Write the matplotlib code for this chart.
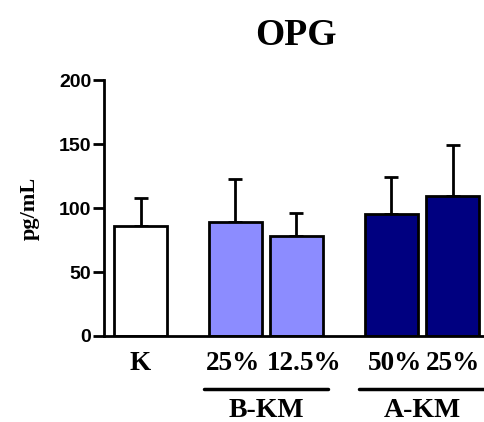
import numpy as np
import matplotlib
matplotlib.use("Agg")
import matplotlib.pyplot as plt
from matplotlib.font_manager import FontProperties

# OPG levels per group (mean and upper SD)
groups = ["K", "25%", "12.5%", "50%", "25%"]
means = [86, 89, 78, 95, 109]
sds = [22, 34, 18, 29, 40]
colors = ["white", "#8c8cff", "#8c8cff", "#000080", "#000080"]
positions = [0.69, 2.48, 3.63, 5.42, 6.58]
bracket_names = ["B-KM", "A-KM"]
bracket_members = [(1, 2), (3, 4)]

serif = "Liberation Serif"
sans = "Liberation Sans"

fig = plt.figure(figsize=(4.85, 4.22), dpi=100)
ax = fig.add_axes([0.2144, 0.2038, 0.7856, 0.6066])

ax.bar(positions, means, width=1.0, color=colors, edgecolor="black",
       linewidth=2, zorder=2)
ax.errorbar(positions, means, yerr=[np.zeros(len(sds)), sds], fmt="none",
            ecolor="black", elinewidth=2, capsize=4.7, capthick=2, zorder=1)

ax.set_xlim(0, 7.19)
ax.set_ylim(0, 200)
ax.set_yticks([0, 50, 100, 150, 200])
ax.set_xticks([])
for s in ["top", "right"]:
    ax.spines[s].set_visible(False)
for s in ["left", "bottom"]:
    ax.spines[s].set_linewidth(2)
ax.tick_params(axis="y", direction="out", length=8, width=2, pad=1)
for lab in ax.get_yticklabels():
    lab.set_fontproperties(FontProperties(family=sans, weight="bold", size=14))

ax.set_ylabel("pg/mL", fontfamily=serif, fontweight="bold", fontsize=16,
              va="center")
ax.yaxis.set_label_coords(-0.194, 0.5)
fig.text(0.611, 0.893, "OPG", ha="center", va="baseline", fontfamily=serif,
         fontweight="bold", fontsize=27)

# category labels under the bars (small nudges so neighbours don't collide)
nudge = [0, -0.04, 0.15, 0.07, 0]
for x, dx, g in zip(positions, nudge, groups):
    ax.text(x + dx, -26.6, g, ha="center", va="baseline", fontfamily=serif,
            fontweight="bold", fontsize=19.5, clip_on=False)

# group brackets
for name, (i, j) in zip(bracket_names, bracket_members):
    x0 = positions[i] - 0.6
    x1 = positions[j] + 0.6
    ax.plot([x0, x1], [-41.4, -41.4], color="black", lw=2.5, clip_on=False,
            solid_capstyle="round")
    ax.text((x0 + x1) / 2, -63.5, name, ha="center", va="baseline",
            fontfamily=serif, fontweight="bold", fontsize=20, clip_on=False)

fig.savefig("out.png", dpi=100)
